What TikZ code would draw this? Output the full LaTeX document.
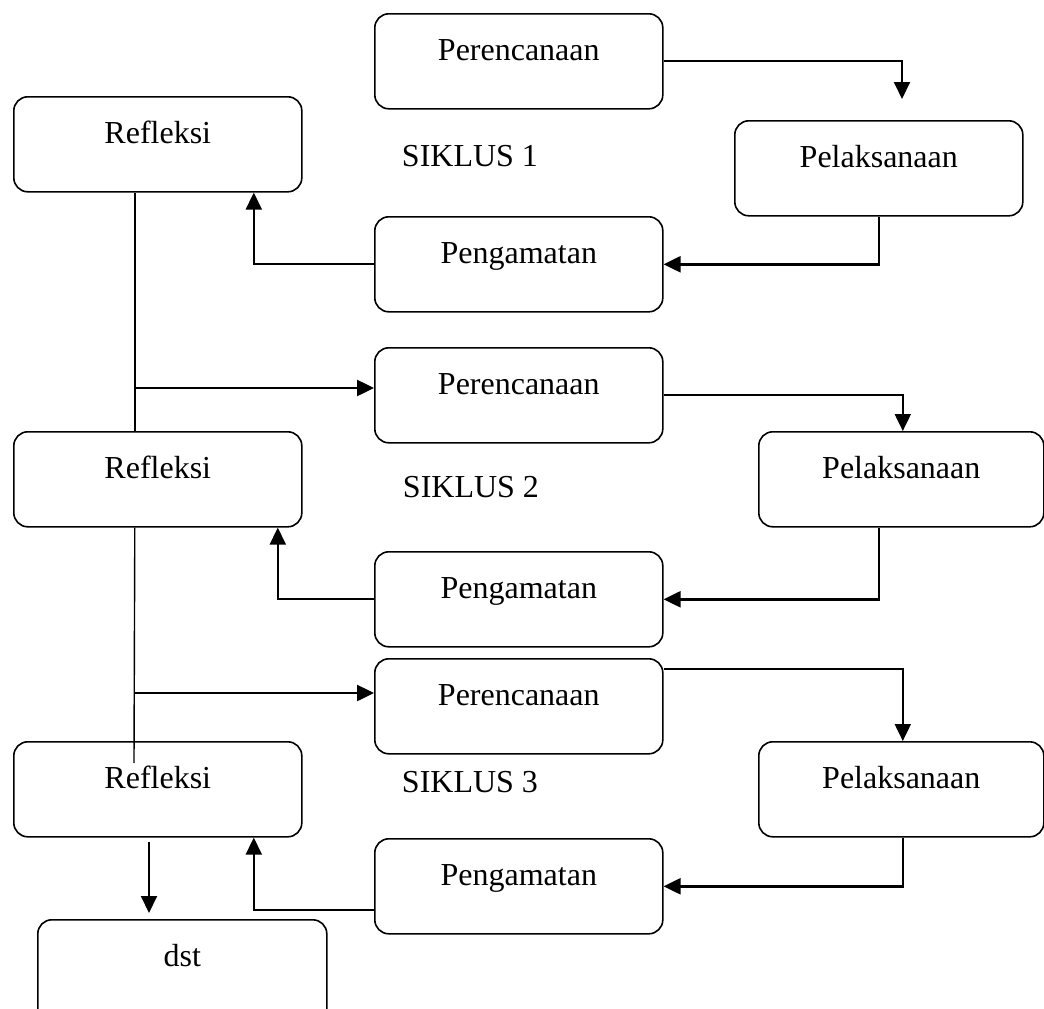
\documentclass[tikz,border=0pt]{standalone}
\usepackage{fontspec}
\setmainfont{Liberation Serif}
\usetikzlibrary{arrows.meta,calc}
\begin{document}
\begin{tikzpicture}[x=1pt,y=-1pt,
  box/.style={draw, line width=1.6pt, rounded corners=14pt, inner sep=0pt,
    minimum width=288pt, text height=47pt, text depth=48pt, anchor=north west,
    font=\fontsize{32}{38}\selectfont},
  lbl/.style={anchor=base, font=\fontsize{32}{38}\selectfont},
  conn/.style={line width=2pt},
  heavy/.style={line width=2.5pt},
  spine/.style={line width=1.4pt},
  tip/.style={-{Triangle[length=17pt,width=16pt]}}
]
\useasboundingbox (0,0) rectangle (1044,1009);
\clip (0,0) rectangle (1044,1009);

% Cycle 1
\node[box] (per1) at (374,13) {Perencanaan};
\node[box] (pel1) at (734,120) {Pelaksanaan};
\node[box] (peng1) at (374,216) {Pengamatan};
\node[box] (ref1) at (13,96) {Refleksi};
\node[lbl] (sik1) at (470,166) {SIKLUS 1};

% Cycle 2
\node[box] (per2) at (374,347) {Perencanaan};
\node[box, minimum width=285pt] (pel2) at (758,431) {Pelaksanaan};
\node[box] (peng2) at (374,551) {Pengamatan};
\node[box] (ref2) at (13,431) {Refleksi};
\node[lbl] (sik2) at (471,497) {SIKLUS 2};

% Cycle 3
\node[box] (per3) at (374,658) {Perencanaan};
\node[box, minimum width=285pt] (pel3) at (758,741) {Pelaksanaan};
\node[box] (peng3) at (374,838) {Pengamatan};
\node[box] (ref3) at (13,741) {Refleksi};
\node[lbl] (sik3) at (470,792) {SIKLUS 3};

\node[box, minimum width=289pt, text depth=70pt] (dst) at (37,919) {dst};

% coordinates
\coordinate (e1) at (902,99);
\coordinate (j1) at (134,388);
\coordinate (j2) at (134,693);
\coordinate (s2end) at (134,763);
\coordinate (d1) at (149,842);

% Cycle 1 connectors
\draw[conn,tip] (per1.east) -| (e1);
\draw[heavy,tip] (pel1.south) |- (peng1.east);
\draw[conn,tip] (peng1.west) -| ([xshift=96pt]ref1.south);
\draw[spine] ([xshift=-23pt]ref1.south) -- ([xshift=-23pt]ref2.north);
\draw[heavy,tip] (j1) -- (per2.west |- j1);

% Cycle 2 connectors
\draw[conn,tip] (per2.east) -| ([xshift=1.5pt]pel2.north);
\draw[heavy,tip] ([xshift=-22.5pt]pel2.south) |- (peng2.east);
\draw[conn,tip] (peng2.west) -| ([xshift=120pt]ref2.south);
\draw[spine] ([xshift=-23pt]ref2.south) -- (s2end);
\draw[heavy,tip] (j2) -- (per3.west |- j2);

% Cycle 3 connectors
\draw[conn,tip] ($(per3.north east)+(0,11)$) -| ([xshift=1.5pt]pel3.north);
\draw[heavy,tip] ([xshift=1.5pt]pel3.south) |- (peng3.east);
\draw[conn,tip] ([yshift=-23.5pt]peng3.west) -| ([xshift=96pt]ref3.south);
\draw[conn,tip] (d1) -- ($(d1 |- dst.north)+(0,-6)$);
\end{tikzpicture}
\end{document}
